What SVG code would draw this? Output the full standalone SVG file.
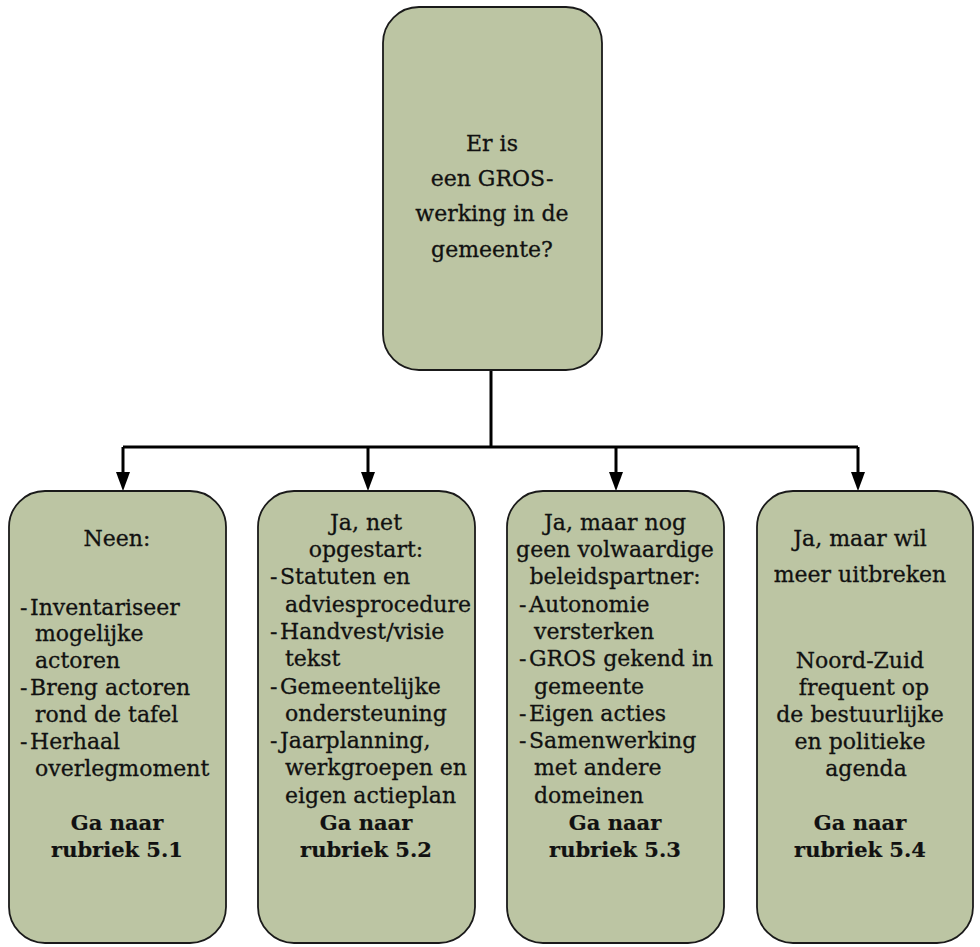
<svg xmlns="http://www.w3.org/2000/svg" width="980" height="947" viewBox="0 0 980 947">
<defs>
<style>
.box{fill:#bcc5a3;stroke:#1a1a1a;stroke-width:1.8}
.t{font-family:"DejaVu Serif","Liberation Serif",serif;font-size:22px;fill:#111;stroke:#111;stroke-width:0.3}
.c{text-anchor:middle}
.b{font-weight:bold;font-size:21px;stroke-width:0.2}
.line{stroke:#000;stroke-width:3;fill:none}
</style>
</defs>
<rect width="980" height="947" fill="#fff"/>
<g id="connectors">
<path class="line" d="M491,370 V447"/>
<path class="line" d="M123,447 H858"/>
<path d="M123,447 V474" class="line"/>
<path d="M368,447 V474" class="line"/>
<path d="M616,447 V474" class="line"/>
<path d="M858,447 V474" class="line"/>
<path d="M116,472 L130,472 L123,491 Z" fill="#000"/>
<path d="M361,472 L375,472 L368,491 Z" fill="#000"/>
<path d="M609,472 L623,472 L616,491 Z" fill="#000"/>
<path d="M851,472 L865,472 L858,491 Z" fill="#000"/>
</g>
<g id="top">
<rect class="box" x="383" y="7" width="219" height="363" rx="36" ry="36"/>
<text class="t c" x="492" y="151">Er is</text>
<text class="t c" x="492" y="186">een GROS-</text>
<text class="t c" x="492" y="221">werking in de</text>
<text class="t c" x="492" y="257">gemeente?</text>
</g>
<g id="neen">
<rect class="box" x="9" y="491" width="217" height="452" rx="36" ry="36"/>
<text class="t c" x="117" y="546">Neen:</text>
<text class="t" x="20" y="615">-<tspan x="30">Inventariseer</tspan></text>
<text class="t" x="35" y="641">mogelijke</text>
<text class="t" x="35" y="668">actoren</text>
<text class="t" x="20" y="695">-<tspan x="30">Breng actoren</tspan></text>
<text class="t" x="35" y="722">rond de tafel</text>
<text class="t" x="20" y="749">-<tspan x="30">Herhaal</tspan></text>
<text class="t" x="35" y="776">overlegmoment</text>
<text class="t c b" x="117" y="830">Ga naar</text>
<text class="t c b" x="117" y="857">rubriek 5.1</text>
</g>
<g id="opgestart">
<rect class="box" x="258" y="491" width="217" height="452" rx="36" ry="36"/>
<text class="t c" x="366" y="530">Ja, net</text>
<text class="t c" x="366" y="557">opgestart:</text>
<text class="t" x="270" y="584">-<tspan x="280">Statuten en</tspan></text>
<text class="t" x="285" y="612">adviesprocedure</text>
<text class="t" x="270" y="639">-<tspan x="280">Handvest/visie</tspan></text>
<text class="t" x="285" y="666">tekst</text>
<text class="t" x="270" y="694">-<tspan x="280">Gemeentelijke</tspan></text>
<text class="t" x="285" y="721">ondersteuning</text>
<text class="t" x="270" y="748">-<tspan x="280">Jaarplanning,</tspan></text>
<text class="t" x="285" y="775">werkgroepen en</text>
<text class="t" x="285" y="803">eigen actieplan</text>
<text class="t c b" x="366" y="830">Ga naar</text>
<text class="t c b" x="366" y="857">rubriek 5.2</text>
</g>
<g id="beleidspartner">
<rect class="box" x="507" y="491" width="217" height="452" rx="36" ry="36"/>
<text class="t c" x="615" y="530">Ja, maar nog</text>
<text class="t c" x="615" y="557">geen volwaardige</text>
<text class="t c" x="615" y="584">beleidspartner:</text>
<text class="t" x="519" y="612">-<tspan x="529">Autonomie</tspan></text>
<text class="t" x="534" y="639">versterken</text>
<text class="t" x="519" y="666">-<tspan x="529">GROS gekend in</tspan></text>
<text class="t" x="534" y="694">gemeente</text>
<text class="t" x="519" y="721">-<tspan x="529">Eigen acties</tspan></text>
<text class="t" x="519" y="748">-<tspan x="529">Samenwerking</tspan></text>
<text class="t" x="534" y="775">met andere</text>
<text class="t" x="534" y="803">domeinen</text>
<text class="t c b" x="615" y="830">Ga naar</text>
<text class="t c b" x="615" y="857">rubriek 5.3</text>
</g>
<g id="uitbreken">
<rect class="box" x="757" y="491" width="216" height="452" rx="36" ry="36"/>
<text class="t c" x="860" y="546">Ja, maar wil</text>
<text class="t c" x="860" y="582">meer uitbreken</text>
<text class="t c" x="860" y="668">Noord-Zuid</text>
<text class="t c" x="864" y="695">frequent op</text>
<text class="t c" x="860" y="722">de bestuurlijke</text>
<text class="t c" x="860" y="749">en politieke</text>
<text class="t c" x="866" y="776">agenda</text>
<text class="t c b" x="860" y="830">Ga naar</text>
<text class="t c b" x="860" y="857">rubriek 5.4</text>
</g>
</svg>
